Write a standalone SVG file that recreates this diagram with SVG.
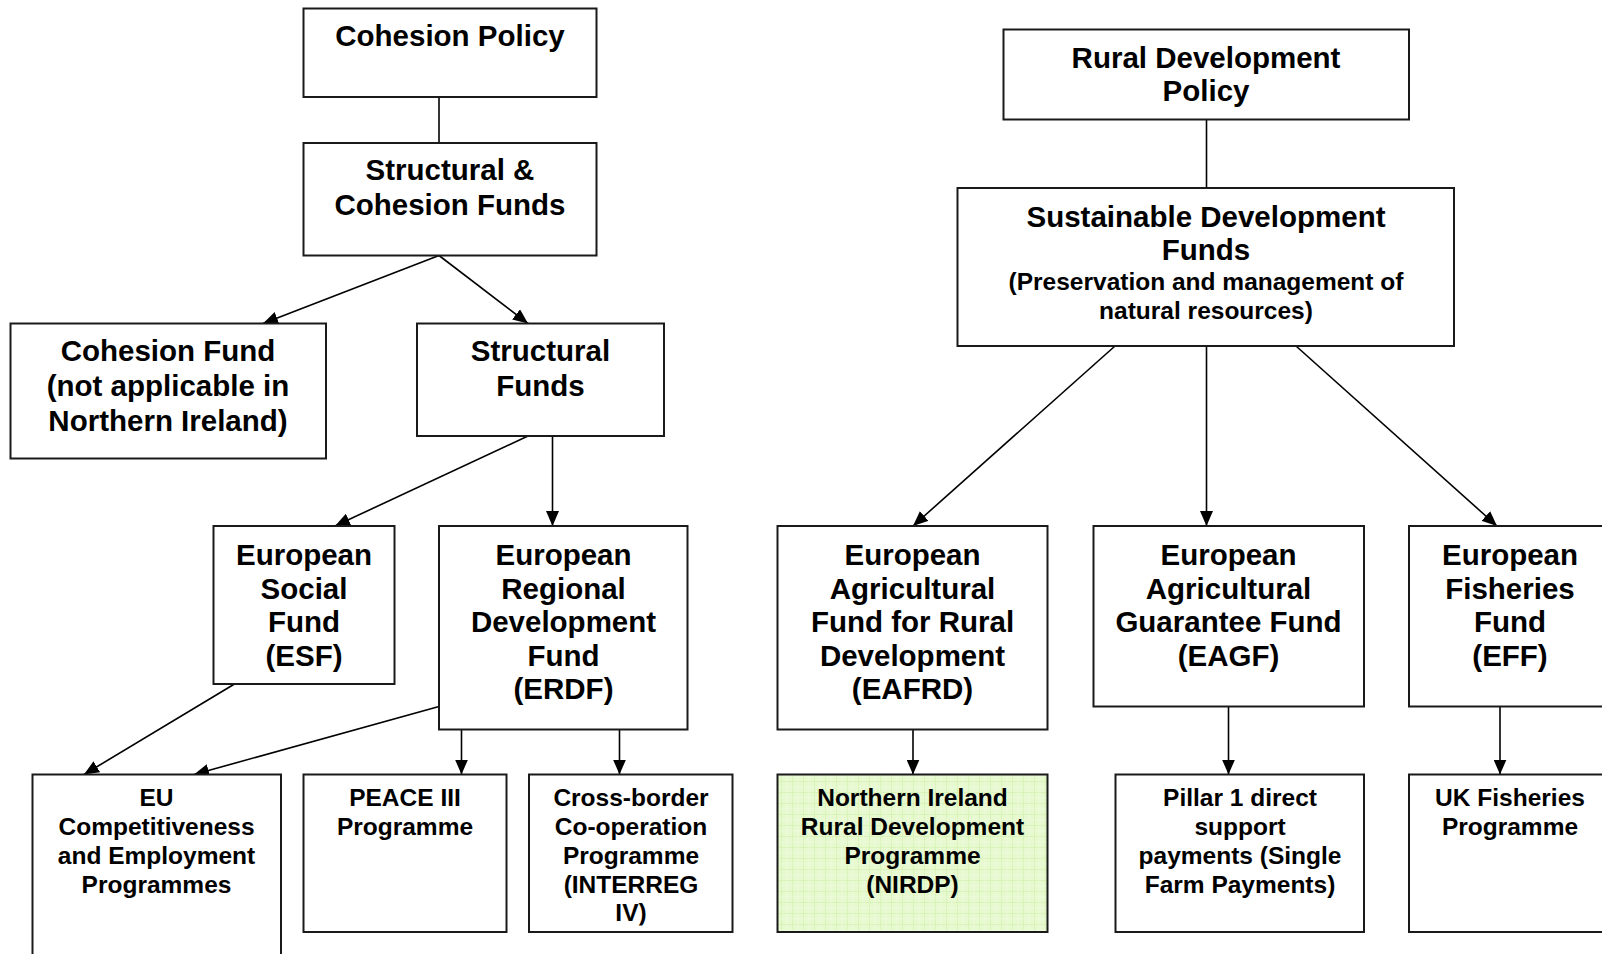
<svg xmlns="http://www.w3.org/2000/svg" width="1602" height="954" viewBox="0 0 1602 954">
  <style>
    .box { fill: #ffffff; stroke: #1a1a1a; stroke-width: 2; }
    .hl { fill: url(#gridGreen); stroke: #1a1a1a; stroke-width: 2; }
    .t { font-family: "Liberation Sans", Arial, Helvetica, sans-serif; font-weight: bold; font-size: 29.5px; fill: #000; text-anchor: middle; }
    .s { font-family: "Liberation Sans", Arial, Helvetica, sans-serif; font-weight: bold; font-size: 24.5px; fill: #000; text-anchor: middle; }
    .link { fill: none; stroke: #000; stroke-width: 1.6; }
    .arrow { marker-end: url(#head); }
  </style>
  <defs>
    <marker id="head" viewBox="0 0 15 13" refX="15" refY="6.5" markerWidth="15" markerHeight="13" markerUnits="userSpaceOnUse" orient="auto">
      <path d="M0,0 L15,6.5 L0,13 z" fill="#000"/>
    </marker>
    <pattern id="gridGreen" width="11" height="11" patternUnits="userSpaceOnUse">
      <rect width="11" height="11" fill="#e7f9cf"/>
      <path d="M0,0.5 H11 M0.5,0 V11" stroke="#d9f2b8" stroke-width="1"/>
      <path d="M0,6 H11 M6,0 V11" stroke="#eefbde" stroke-width="0.8"/>
    </pattern>
    <clipPath id="cbClip">
      <rect x="529" y="774" width="204" height="151.5"/>
    </clipPath>
  </defs>
  <rect width="1602" height="954" fill="#ffffff"/>

  <!-- connectors -->
  <g id="connectors">
    <line class="link" x1="439" y1="97" x2="439" y2="143"/>
    <line class="link arrow" x1="439" y1="255.5" x2="263" y2="323.5"/>
    <line class="link arrow" x1="439" y1="255.5" x2="528" y2="323.5"/>
    <line class="link arrow" x1="528" y1="436" x2="335" y2="526"/>
    <line class="link arrow" x1="552.5" y1="436" x2="552.5" y2="526"/>
    <line class="link arrow" x1="234.5" y1="684" x2="84" y2="774.5"/>
    <line class="link arrow" x1="439" y1="706.5" x2="194" y2="774.5"/>
    <line class="link arrow" x1="461.5" y1="729.5" x2="461.5" y2="774.5"/>
    <line class="link arrow" x1="619.5" y1="729.5" x2="619.5" y2="774.5"/>

    <line class="link" x1="1206.5" y1="120" x2="1206.5" y2="188"/>
    <line class="link arrow" x1="1115" y1="346" x2="913" y2="526"/>
    <line class="link arrow" x1="1206.5" y1="346" x2="1206.5" y2="526"/>
    <line class="link arrow" x1="1296" y1="346" x2="1497" y2="526"/>
    <line class="link arrow" x1="913" y1="729.5" x2="913" y2="774.5"/>
    <line class="link arrow" x1="1228.5" y1="706.5" x2="1228.5" y2="774.5"/>
    <line class="link arrow" x1="1500" y1="706.5" x2="1500" y2="774.5"/>
  </g>

  <!-- cohesion policy branch -->
  <g id="cohesion-policy">
    <rect class="box" x="303.5" y="8.5" width="293" height="88.5"/>
    <text class="t" x="450" y="46">Cohesion Policy</text>
  </g>
  <g id="structural-cohesion-funds">
    <rect class="box" x="303.5" y="143" width="293" height="112.5"/>
    <text class="t"><tspan x="450" y="180">Structural &amp;</tspan><tspan x="450" y="215">Cohesion Funds</tspan></text>
  </g>
  <g id="cohesion-fund">
    <rect class="box" x="10.5" y="323.5" width="315.5" height="135"/>
    <text class="t"><tspan x="168" y="361">Cohesion Fund</tspan><tspan x="168" y="396">(not applicable in</tspan><tspan x="168" y="430.5">Northern Ireland)</tspan></text>
  </g>
  <g id="structural-funds">
    <rect class="box" x="417" y="323.5" width="247" height="112.5"/>
    <text class="t"><tspan x="540.5" y="361">Structural</tspan><tspan x="540.5" y="396">Funds</tspan></text>
  </g>
  <g id="esf">
    <rect class="box" x="213.5" y="526" width="181" height="158"/>
    <text class="t"><tspan x="304" y="565">European</tspan><tspan x="304" y="598.5">Social</tspan><tspan x="304" y="632">Fund</tspan><tspan x="304" y="665.5">(ESF)</tspan></text>
  </g>
  <g id="erdf">
    <rect class="box" x="439" y="526" width="248.5" height="203.5"/>
    <text class="t"><tspan x="563.5" y="565">European</tspan><tspan x="563.5" y="598.5">Regional</tspan><tspan x="563.5" y="632">Development</tspan><tspan x="563.5" y="665.5">Fund</tspan><tspan x="563.5" y="699">(ERDF)</tspan></text>
  </g>
  <g id="eu-competitiveness">
    <rect class="box" x="32.5" y="774.5" width="248.5" height="200"/>
    <text class="s"><tspan x="156.5" y="806">EU</tspan><tspan x="156.5" y="835">Competitiveness</tspan><tspan x="156.5" y="864">and Employment</tspan><tspan x="156.5" y="893">Programmes</tspan></text>
  </g>
  <g id="peace-iii">
    <rect class="box" x="303.5" y="774.5" width="203" height="157.5"/>
    <text class="s"><tspan x="405" y="806">PEACE III</tspan><tspan x="405" y="835">Programme</tspan></text>
  </g>
  <g id="cross-border">
    <rect class="box" x="529" y="774.5" width="203.5" height="157.5"/>
    <text class="s" clip-path="url(#cbClip)"><tspan x="631" y="806">Cross-border</tspan><tspan x="631" y="835">Co-operation</tspan><tspan x="631" y="864">Programme</tspan><tspan x="631" y="893">(INTERREG</tspan><tspan x="631" y="921">IV)</tspan></text>
  </g>

  <!-- rural development branch -->
  <g id="rural-development-policy">
    <rect class="box" x="1003.5" y="29.5" width="405.5" height="90"/>
    <text class="t"><tspan x="1206" y="68">Rural Development</tspan><tspan x="1206" y="101">Policy</tspan></text>
  </g>
  <g id="sustainable-development-funds">
    <rect class="box" x="957.5" y="188" width="496.5" height="158"/>
    <text class="t"><tspan x="1206" y="226.5">Sustainable Development</tspan><tspan x="1206" y="260">Funds</tspan></text>
    <text class="s" style="font-size:24.5px"><tspan x="1206" y="290">(Preservation and management of</tspan><tspan x="1206" y="319">natural resources)</tspan></text>
  </g>
  <g id="eafrd">
    <rect class="box" x="777.5" y="526" width="270" height="203.5"/>
    <text class="t"><tspan x="912.5" y="565">European</tspan><tspan x="912.5" y="598.5">Agricultural</tspan><tspan x="912.5" y="632">Fund for Rural</tspan><tspan x="912.5" y="665.5">Development</tspan><tspan x="912.5" y="699">(EAFRD)</tspan></text>
  </g>
  <g id="eagf">
    <rect class="box" x="1093.5" y="526" width="270.5" height="180.5"/>
    <text class="t"><tspan x="1228.5" y="565">European</tspan><tspan x="1228.5" y="598.5">Agricultural</tspan><tspan x="1228.5" y="632">Guarantee Fund</tspan><tspan x="1228.5" y="665.5">(EAGF)</tspan></text>
  </g>
  <g id="eff">
    <rect class="box" x="1409" y="526" width="260" height="180.5"/>
    <text class="t"><tspan x="1510" y="565">European</tspan><tspan x="1510" y="598.5">Fisheries</tspan><tspan x="1510" y="632">Fund</tspan><tspan x="1510" y="665.5">(EFF)</tspan></text>
  </g>
  <g id="nirdp">
    <rect class="hl" x="777.5" y="774.5" width="270" height="157.5"/>
    <text class="s"><tspan x="912.5" y="806">Northern Ireland</tspan><tspan x="912.5" y="835">Rural Development</tspan><tspan x="912.5" y="864">Programme</tspan><tspan x="912.5" y="893">(NIRDP)</tspan></text>
  </g>
  <g id="pillar-1">
    <rect class="box" x="1115.5" y="774.5" width="248.5" height="157.5"/>
    <text class="s"><tspan x="1240" y="806">Pillar 1 direct</tspan><tspan x="1240" y="835">support</tspan><tspan x="1240" y="864">payments (Single</tspan><tspan x="1240" y="893">Farm Payments)</tspan></text>
  </g>
  <g id="uk-fisheries">
    <rect class="box" x="1409" y="774.5" width="260" height="157.5"/>
    <text class="s"><tspan x="1510" y="806">UK Fisheries</tspan><tspan x="1510" y="835">Programme</tspan></text>
  </g>
</svg>
